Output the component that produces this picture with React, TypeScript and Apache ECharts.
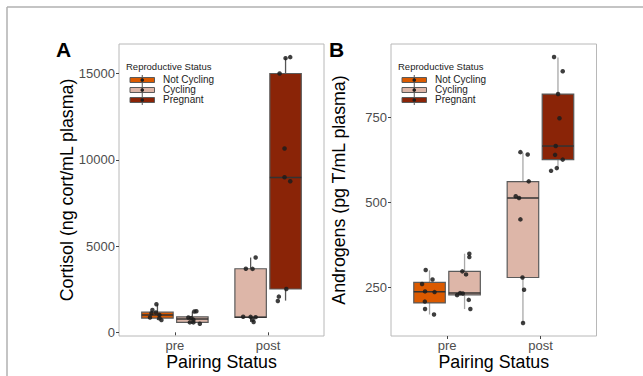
import React, { useEffect, useRef } from "react";
import * as echarts from "echarts";

const categories = ["pre", "post"];
const groups = ["Not Cycling", "Cycling", "Pregnant"];
const groupColors = ["#DB5A00", "#DDB6A8", "#8A2407"];

// Panel A: cortisol — box stats [min, q1, median, q3, max]
const cortisolPreNotCyclingBox = [710, 824, 1000, 1170, 1630];
const cortisolPreCyclingBox = [495, 576, 766, 899, 1210];
const cortisolPostCyclingBox = [600, 864, 880, 3687, 4337];
const cortisolPostPregnantBox = [1840, 2512, 8986, 15012, 15900];

const cortisolPreNotCycling = [1630, 1300, 1150, 1110, 1010, 860, 820, 710];
const cortisolPreNotCyclingJitter = [-0.011, -0.054, -0.016, -0.064, 0.021, -0.08, 0.021, 0.043];
const cortisolPreCycling = [1220, 1205, 864, 824, 726, 576, 576, 495];
const cortisolPreCyclingJitter = [0.043, 0.021, -0.043, -0.011, 0.011, -0.027, 0.011, 0.08];
const cortisolPostCycling = [4340, 3690, 3680, 900, 895, 880, 730, 600];
const cortisolPostCyclingJitter = [0.054, -0.051, 0.021, -0.08, 0, 0.054, 0.021, 0.032];
const cortisolPostPregnant = [15960, 15900, 15010, 10660, 8990, 8760, 2510, 2070, 1820];
const cortisolPostPregnantJitter = [0.05, 0, -0.064, -0.011, -0.011, 0.05, 0.008, -0.072, -0.083];

const cortisolTicks = [0, 5000, 10000, 15000];

// Panel B: androgens
const androgenPreNotCyclingBox = [170, 204, 237, 264.6, 300];
const androgenPreCyclingBox = [186, 227.5, 233.4, 296.8, 349];
const androgenPostCyclingBox = [145, 279, 513, 561, 646];
const androgenPostPregnantBox = [598, 626, 666, 819, 927];

const androgenPreNotCycling = [301, 273, 260, 238, 236, 208, 186, 170];
const androgenPreNotCyclingJitter = [-0.041, 0.032, -0.08, -0.048, 0.054, -0.05, -0.048, 0.048];
const androgenPreCycling = [349, 339, 297, 288, 233, 232, 227, 213, 186];
const androgenPreCyclingJitter = [0.051, 0.051, -0.024, 0.016, -0.048, -0.019, -0.08, 0.045, 0.062];
const androgenPostCycling = [648, 641, 562, 518, 513, 450, 279, 243, 145];
const androgenPostCyclingJitter = [-0.027, 0.051, 0.062, -0.077, -0.042, -0.027, -0.005, 0.012, 0.001];
const androgenPostPregnant = [928, 886, 819, 748, 666, 640, 626, 601, 593];
const androgenPostPregnantJitter = [-0.042, 0.051, 0.001, 0.016, -0.024, -0.031, 0.051, -0.013, -0.074];

const androgenTicks = [250, 500, 750];

const FONT = "Liberation Sans, Arial, Helvetica, sans-serif";
const DODGE = 0.1875;
const HALF = 0.16875;

type BoxDef = { cat: number; side: number; group: number; stats: number[]; pts: number[]; jit: number[] };

const panelA: BoxDef[] = [
  { cat: 0, side: -1, group: 0, stats: cortisolPreNotCyclingBox, pts: cortisolPreNotCycling, jit: cortisolPreNotCyclingJitter },
  { cat: 0, side: 1, group: 1, stats: cortisolPreCyclingBox, pts: cortisolPreCycling, jit: cortisolPreCyclingJitter },
  { cat: 1, side: -1, group: 1, stats: cortisolPostCyclingBox, pts: cortisolPostCycling, jit: cortisolPostCyclingJitter },
  { cat: 1, side: 1, group: 2, stats: cortisolPostPregnantBox, pts: cortisolPostPregnant, jit: cortisolPostPregnantJitter },
];
const panelB: BoxDef[] = [
  { cat: 0, side: -1, group: 0, stats: androgenPreNotCyclingBox, pts: androgenPreNotCycling, jit: androgenPreNotCyclingJitter },
  { cat: 0, side: 1, group: 1, stats: androgenPreCyclingBox, pts: androgenPreCycling, jit: androgenPreCyclingJitter },
  { cat: 1, side: -1, group: 1, stats: androgenPostCyclingBox, pts: androgenPostCycling, jit: androgenPostCyclingJitter },
  { cat: 1, side: 1, group: 2, stats: androgenPostPregnantBox, pts: androgenPostPregnant, jit: androgenPostPregnantJitter },
];

function buildSeries(defs: BoxDef[], axisIndex: number, whiskerColor: string) {
  const series: any[] = [];
  defs.forEach((d) => {
    const center = d.cat + 1 + d.side * DODGE;
    const color = groupColors[d.group];
    series.push({
      type: "custom",
      name: groups[d.group],
      xAxisIndex: axisIndex,
      yAxisIndex: axisIndex,
      data: [[center, ...d.stats]],
      encode: { x: 0, y: [1, 2, 3, 4, 5] },
      z: 2,
      renderItem: (params: any, api: any) => {
        const x = api.value(0);
        const mn = api.value(1), q1 = api.value(2), md = api.value(3), q3 = api.value(4), mx = api.value(5);
        const tl = api.coord([x - HALF, q3]);
        const br = api.coord([x + HALF, q1]);
        const c = (v: number) => api.coord([x, v]);
        const mL = api.coord([x - HALF, md]);
        const mR = api.coord([x + HALF, md]);
        return {
          type: "group",
          children: [
            { type: "line", shape: { x1: c(mx)[0], y1: c(mx)[1], x2: c(q3)[0], y2: c(q3)[1] }, style: { stroke: whiskerColor, lineWidth: 1.3 } },
            { type: "line", shape: { x1: c(q1)[0], y1: c(q1)[1], x2: c(mn)[0], y2: c(mn)[1] }, style: { stroke: whiskerColor, lineWidth: 1.3 } },
            { type: "rect", shape: { x: tl[0], y: tl[1], width: br[0] - tl[0], height: br[1] - tl[1] }, style: { fill: color, stroke: "#5a5a5a", lineWidth: 1.2 } },
            { type: "line", shape: { x1: mL[0], y1: mL[1], x2: mR[0], y2: mR[1] }, style: { stroke: "#333333", lineWidth: 1.5 } },
          ],
        };
      },
    });
  });
  defs.forEach((d) => {
    const center = d.cat + 1 + d.side * DODGE;
    series.push({
      type: "scatter",
      xAxisIndex: axisIndex,
      yAxisIndex: axisIndex,
      data: d.pts.map((v, i) => [center + d.jit[i], v]),
      symbolSize: 4.5,
      itemStyle: { color: "#1c1c1c", opacity: 0.85 },
      z: 5,
    });
  });
  return series;
}

function legendGraphics(x0: number) {
  const els: any[] = [
    { type: "text", left: x0, top: 61.5, style: { text: "Reproductive Status", fontSize: 9.5, fontFamily: FONT, fill: "#222" } },
  ];
  groups.forEach((g, i) => {
    const cy = 80 + i * 10;
    const kx = x0 + 4;
    els.push({ type: "rect", shape: { x: kx, y: cy - 2.5, width: 24.5, height: 5 }, style: { fill: groupColors[i], stroke: "#5a5a5a", lineWidth: 1 } });
    els.push({ type: "line", shape: { x1: kx + 12.25, y1: cy - 5, x2: kx + 12.25, y2: cy + 5 }, style: { stroke: "#555", lineWidth: 1 } });
    els.push({ type: "circle", shape: { cx: kx + 12.25, cy, r: 1.8 }, style: { fill: "#1c1c1c" } });
    els.push({ type: "text", left: x0 + 37, top: cy - 6, style: { text: g, fontSize: 10, fontFamily: FONT, fill: "#222" } });
  });
  return els;
}

function xAxisDef(gridIndex: number) {
  return {
    type: "value",
    gridIndex,
    min: 0.4,
    max: 2.6,
    name: "Pairing Status",
    nameLocation: "middle",
    nameGap: 17,
    nameMoveOverlap: false,
    nameTextStyle: { fontSize: 17.8, color: "#000", fontFamily: FONT },
    axisLine: { show: false },
    splitLine: { show: false },
    axisTick: { show: true, length: 3, customValues: [1, 2], lineStyle: { color: "#444" } },
    axisLabel: {
      customValues: [1, 2],
      formatter: (v: number) => categories[Math.round(v) - 1] ?? "",
      fontSize: 13,
      color: "#4d4d4d",
      margin: 3,
      fontFamily: FONT,
    },
  };
}

function yAxisDef(gridIndex: number, min: number, max: number, ticks: number[], name: string) {
  return {
    type: "value",
    gridIndex,
    min,
    max,
    name,
    nameLocation: "middle",
    nameGap: 43,
    nameMoveOverlap: false,
    nameTextStyle: { fontSize: 17.8, color: "#000", fontFamily: FONT },
    axisLine: { show: false },
    splitLine: { show: false },
    axisTick: { show: true, length: 3, customValues: ticks, lineStyle: { color: "#444" } },
    axisLabel: {
      customValues: ticks,
      formatter: (v: number) => String(v),
      fontSize: 13,
      color: "#4d4d4d",
      margin: 4,
      fontFamily: FONT,
    },
  };
}

export default function App() {
  const ref = useRef<HTMLDivElement>(null);
  useEffect(() => {
    if (!ref.current) return;
    const chart = echarts.init(ref.current, null, { renderer: "svg" });
    chart.setOption({
      animation: false,
      backgroundColor: "#ffffff",
      textStyle: { fontFamily: FONT },
      grid: [
        { left: 119, top: 44, width: 205, height: 294, show: true, borderColor: "#b8b8b8", borderWidth: 1, backgroundColor: "transparent" },
        { left: 391, top: 44, width: 205.5, height: 294, show: true, borderColor: "#b8b8b8", borderWidth: 1, backgroundColor: "transparent" },
      ],
      xAxis: [xAxisDef(0), xAxisDef(1)],
      yAxis: [
        yAxisDef(0, -213, 16722, cortisolTicks, "Cortisol (ng cort/mL plasma)"),
        yAxisDef(1, 106.7, 966.4, androgenTicks, "Androgens (pg T/mL plasma)"),
      ],
      series: [...buildSeries(panelA, 0, "#555555"), ...buildSeries(panelB, 1, "#a8a8a8")],
      graphic: [
        { type: "line", shape: { x1: 7, y1: 7, x2: 660, y2: 7 }, style: { stroke: "#b0b0b0", lineWidth: 1.5 }, silent: true },
        { type: "line", shape: { x1: 7, y1: 7, x2: 7, y2: 400 }, style: { stroke: "#b0b0b0", lineWidth: 1.5 }, silent: true },
        { type: "text", left: 56, top: 39, style: { text: "A", fontSize: 21, fontWeight: "bold", fontFamily: FONT, fill: "#000" } },
        { type: "text", left: 329, top: 39, style: { text: "B", fontSize: 21, fontWeight: "bold", fontFamily: FONT, fill: "#000" } },
        ...legendGraphics(126),
        ...legendGraphics(398),
      ],
    });
    return () => chart.dispose();
  }, []);
  return <div ref={ref} style={{ position: "absolute", left: 0, top: 0, width: 643, height: 376 }} />;
}
